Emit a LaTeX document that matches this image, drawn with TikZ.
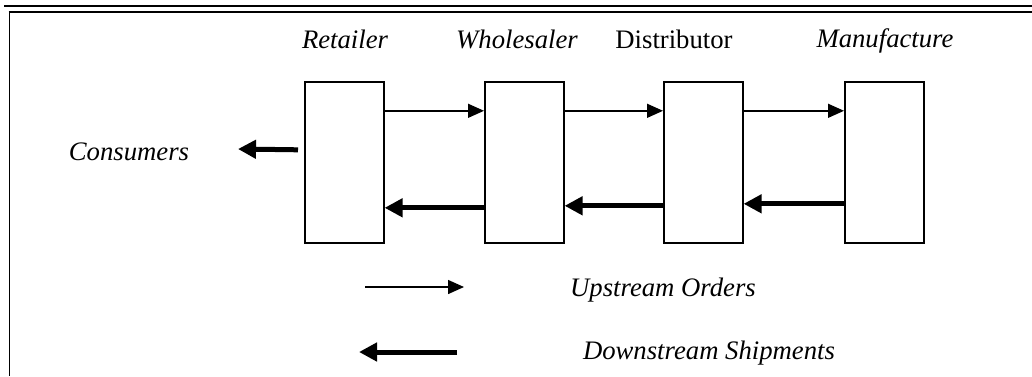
\documentclass[tikz,border=0pt]{standalone}
\usepackage{fontspec}
\setmainfont{Liberation Serif}
\usetikzlibrary{arrows.meta}
\begin{document}
\begin{tikzpicture}[x=1pt,y=-1pt,
  every node/.style={font=\fontsize{26.7}{30}\selectfont},
  lbl/.style={anchor=base, inner sep=0pt},
  stage/.style={draw, line width=1.6pt, minimum width=79pt, minimum height=161pt, inner sep=0pt, anchor=north west},
  order/.style={line width=1.4pt, -{Triangle[length=16pt,width=14pt]}},
  ship/.style={line width=5pt, -{Triangle[length=18pt,width=18pt]}}]
\useasboundingbox (0,0) rectangle (1032,376);
% frame
\draw[line width=2.4pt] (4,5.8) -- (1032,5.8);
\draw[line width=1.6pt] (8.5,11.8) -- (1032,11.8);
\draw[line width=1.6pt] (9.3,11) -- (9.3,376);
% stages
\node[stage] (r) at (304,81) {};
\node[stage] (w) at (484,81) {};
\node[stage] (d) at (663,81) {};
\node[stage] (m) at (844,81) {};
% labels
\node[lbl] at (345,48) {\itshape Retailer};
\node[lbl] at (517,48) {\itshape Wholesaler};
\node[lbl] at (674,48) {Distributor};
\node[lbl] at (885,47) {\itshape Manufacture};
\node[lbl] at (129,160) {\itshape Consumers};
\node[lbl] at (663,296) {\itshape Upstream Orders};
\node[lbl] at (709,359) {\itshape Downstream Shipments};
% orders flow upstream
\draw[order] ([yshift=51.5pt]r.east) -- ([yshift=51.5pt]w.west);
\draw[order] ([yshift=51.5pt]w.east) -- ([yshift=51.5pt]d.west);
\draw[order] ([yshift=51.5pt]d.east) -- ([yshift=51.5pt]m.west);
% shipments flow downstream
\draw[ship] ([yshift=-45.5pt]w.west) -- ([yshift=-45.5pt]r.east);
\draw[ship] ([yshift=-43.5pt]d.west) -- ([yshift=-43.5pt]w.east);
\draw[ship] ([yshift=-41.5pt]m.west) -- ([yshift=-41.5pt]d.east);
\coordinate (c) at (238,149);
\draw[ship] ([xshift=-6pt,yshift=12.5pt]r.west) -- (c);
% legend
\coordinate (o1) at (365,287);
\coordinate (o2) at (464,287);
\coordinate (s1) at (457,352);
\coordinate (s2) at (359,352);
\draw[order] (o1) -- (o2);
\draw[ship] (s1) -- (s2);
\end{tikzpicture}
\end{document}
